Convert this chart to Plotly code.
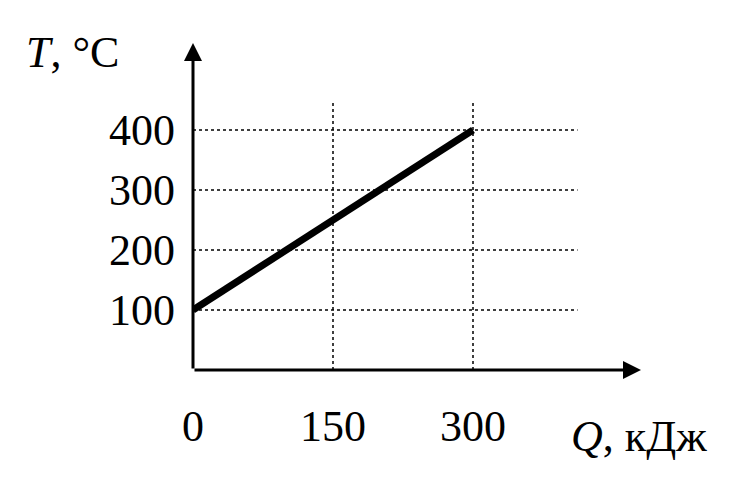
import plotly.graph_objects as go

q = [0, 300]
t = [100, 400]
xticks = [0, 150, 300]
yticks = [100, 200, 300, 400]
F = "Liberation Serif"

fig = go.Figure()
fig.add_trace(go.Scatter(x=q, y=t, mode="lines", line=dict(color="black", width=7), hoverinfo="skip"))
shapes = []
for yv in yticks:
    shapes.append(dict(type="line", x0=0, x1=412, y0=yv, y1=yv, line=dict(color="black", width=1.5, dash="dot")))
for xv in xticks[1:]:
    shapes.append(dict(type="line", x0=xv, x1=xv, y0=0, y1=445, line=dict(color="black", width=1.5, dash="dot")))
fig.update_layout(shapes=shapes)
ann = []
for xv in xticks:
    ann.append(dict(x=xv, y=0, text=str(xv), showarrow=False, yanchor="top", yshift=-30, font=dict(family=F, size=44, color="black")))
for yv in yticks:
    ann.append(dict(x=0, y=yv, text=str(yv), showarrow=False, xanchor="right", xshift=-16, font=dict(family=F, size=44, color="black")))
ann.append(dict(x=0, y=545, ax=0, ay=0, axref="x", ayref="y", showarrow=True, arrowhead=2, arrowsize=1.2, arrowwidth=3, arrowcolor="black", text=""))
ann.append(dict(x=480, y=0, ax=0, ay=0, axref="x", ayref="y", showarrow=True, arrowhead=2, arrowsize=1.2, arrowwidth=3, arrowcolor="black", text=""))
ann.append(dict(xref="paper", yref="paper", x=-0.27, y=0.97, text="<i>T</i>, °C", showarrow=False, xanchor="center", yanchor="middle", font=dict(family=F, size=44, color="black")))
ann.append(dict(x=478, y=0, text="<i>Q</i>, кДж", showarrow=False, xanchor="center", yanchor="top", yshift=-40, font=dict(family=F, size=44, color="black")))
fig.update_layout(
    annotations=ann,
    width=742, height=488,
    margin=dict(l=185, r=109, t=35, b=126, autoexpand=False),
    paper_bgcolor="white", plot_bgcolor="white",
    showlegend=False,
    xaxis=dict(range=[0, 480], showgrid=False, zeroline=False, showticklabels=False, showline=False),
    yaxis=dict(range=[0, 545], showgrid=False, zeroline=False, showticklabels=False, showline=False),
)
fig.write_html("out.html")
